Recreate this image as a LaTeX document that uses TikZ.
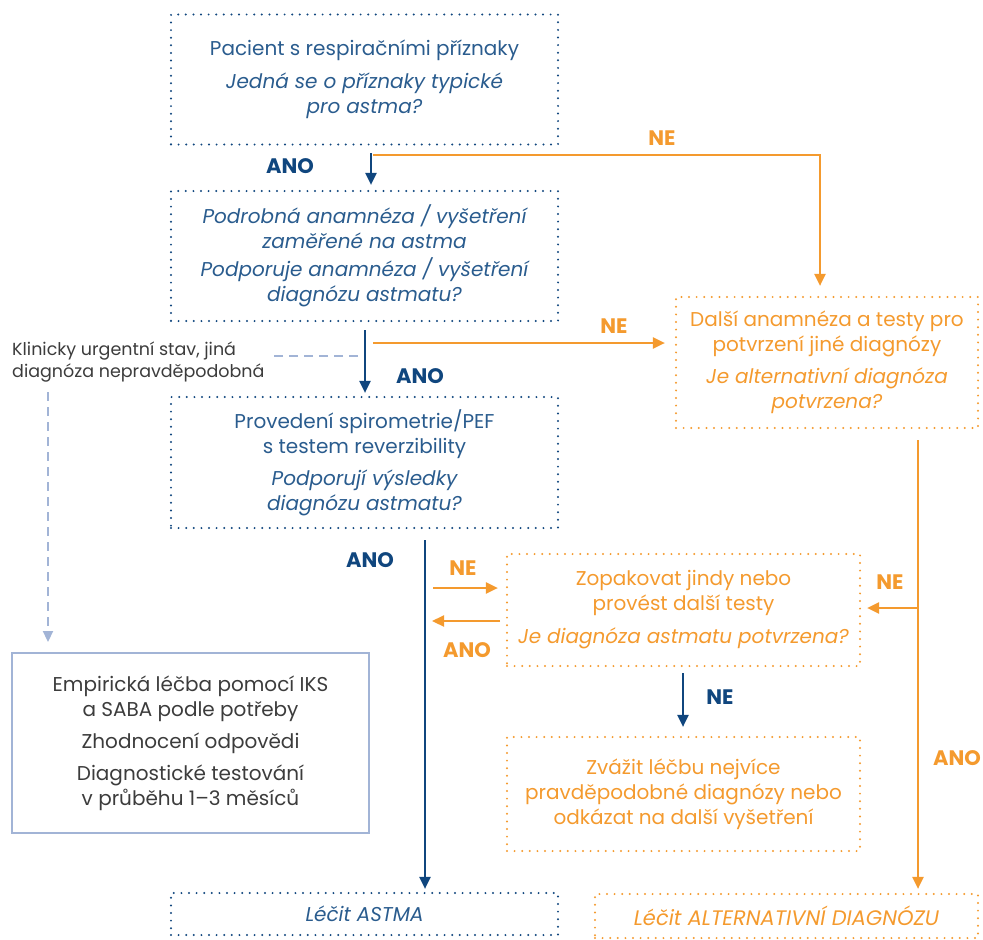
\documentclass[tikz,border=0pt]{standalone}
\usepackage{fontspec}
\setmainfont{Poppins}
\usetikzlibrary{arrows.meta,calc}
\definecolor{blueT}{RGB}{42,92,142}
\definecolor{blueA}{RGB}{16,70,126}
\definecolor{orng}{RGB}{244,154,46}
\definecolor{lblue}{RGB}{162,180,214}
\definecolor{grayT}{RGB}{60,60,60}
\tikzset{
  box/.style={draw, line width=2.2pt, dash pattern=on 0pt off 7.6pt, line cap=round,
    inner sep=0pt, align=center, font=\fontsize{20}{25}\selectfont},
  bbox/.style={box, draw=blueA, text=blueT},
  obox/.style={box, draw=orng, text=orng},
  barrow/.style={draw=blueA, line width=2.2pt, -{Triangle[length=12pt,width=11pt]}},
  oarrow/.style={draw=orng, line width=2.2pt, -{Triangle[length=12pt,width=11pt]}},
  lbl/.style={font=\fontsize{21}{22}\selectfont\bfseries},
  dsh/.style={draw=lblue, line width=2.2pt, dash pattern=on 9pt off 6pt},
}
\begin{document}
\begin{tikzpicture}[x=1pt,y=-1pt]
\useasboundingbox (0,0) rectangle (983,940);
% boxes
\node[bbox, minimum width=387, minimum height=130] (b1) at (364.5,79.5)
  {Pacient s respiračními příznaky\\[8pt] \itshape Jedná se o příznaky typické\\ \itshape pro astma?};
\node[bbox, minimum width=387, minimum height=130] (b2) at (364.5,256)
  {\itshape Podrobná anamnéza / vyšetření\\ \itshape zaměřené na astma\\[3pt] \itshape Podporuje anamnéza / vyšetření\\ \itshape diagnózu astmatu?};
\node[bbox, minimum width=387, minimum height=131] (b3) at (364.5,462.5)
  {Provedení spirometrie/PEF\\ s testem reverzibility\\[7pt] \itshape Podporují výsledky\\ \itshape diagnózu astmatu?};
\node[obox, minimum width=302, minimum height=131] (b4) at (827,362.5)
  {Další anamnéza a testy pro\\ potvrzení jiné diagnózy\\[7pt] \itshape Je alternativní diagnóza\\ \itshape potvrzena?};
\node[obox, minimum width=353, minimum height=112] (b5) at (683.5,610)
  {Zopakovat jindy nebo\\ provést další testy\\[8pt] \itshape Je diagnóza astmatu potvrzena?};
\node[obox, minimum width=353, minimum height=114] (b6) at (683.5,794)
  {Zvážit léčbu nejvíce\\ pravděpodobné diagnózy nebo\\ odkázat na další vyšetření};
\node[bbox, minimum width=387, minimum height=42] (b7) at (364.5,914) {\itshape Léčit ASTMA};
\node[obox, minimum width=383, minimum height=44, font=\fontsize{21}{25}\selectfont] (b8) at (786.5,916) {\itshape Léčit ALTERNATIVNÍ DIAGNÓZU};
\node[draw=lblue, line width=2.2pt, text=grayT, align=center, inner sep=0pt,
  minimum width=357, minimum height=180, font=\fontsize{20}{25}\selectfont] (lb) at (190.5,743)
  {Empirická léčba pomocí IKS\\ a SABA podle potřeby\\[7pt] Zhodnocení odpovědi\\[7pt] Diagnostické testování\\ v průběhu 1–3 měsíců};
\node[text=grayT, align=left, anchor=west, inner sep=0pt, font=\fontsize{17.5}{21.5}\selectfont] (urg) at (12,362)
  {Klinicky urgentní stav, jiná\\ diagnóza nepravděpodobná};
% coordinates
\coordinate (c1) at (371,153);
\coordinate (c1o) at (373,155);
\coordinate (c1k) at (820,155);
\coordinate (c2) at (365,330);
\coordinate (c2o) at (373,343);
\coordinate (cd1) at (358,356);
\coordinate (cd2) at (270,356);
\coordinate (cd3) at (48,392);
\coordinate (cd4) at (48,642);
\coordinate (c3) at (425,540);
\coordinate (cne) at (433,588);
\coordinate (cano) at (500,621);
\coordinate (cano2) at (432,621);
\coordinate (c4) at (918,440);
\coordinate (c4b) at (918,608);
\coordinate (c5) at (683,673);
% connectors
\draw[barrow, shorten >=5pt] (c1) -- (c1 |- b2.north);
\draw[oarrow, shorten >=10pt] (c1o) -- (c1k) -- (c1k |- b4.north);
\draw[barrow, shorten >=3pt] (c2) -- (c2 |- b3.north);
\draw[oarrow, shorten >=10pt] (c2o) -- (c2o -| b4.west);
\draw[dsh] (cd1) -- (cd2);
\draw[dsh, -{Triangle[length=11pt,width=10pt]}] (cd3) -- (cd4);
\draw[barrow, shorten >=3pt] (c3) -- (c3 |- b7.north);
\draw[oarrow, shorten >=8pt] (cne) -- (cne -| b5.west);
\draw[oarrow] (cano) -- (cano2);
\draw[oarrow, shorten >=4pt] (c4) -- (c4 |- b8.north);
\draw[oarrow, shorten >=6pt] (c4b) -- (c4b -| b5.east);
\draw[barrow, shorten >=9pt] (c5) -- (c5 |- b6.north);
% labels
\node[lbl, text=blueA] (l1) at (290,166) {ANO};
\node[lbl, text=orng] (l2) at (662,138) {NE};
\node[lbl, text=orng] (l3) at (614,326) {NE};
\node[lbl, text=blueA] (l4) at (420,376) {ANO};
\node[lbl, text=blueA] (l5) at (370,560) {ANO};
\node[lbl, text=orng] (l6) at (463,568) {NE};
\node[lbl, text=orng] (l7) at (467,650) {ANO};
\node[lbl, text=orng] (l8) at (890,582) {NE};
\node[lbl, text=orng] (l9) at (957,758) {ANO};
\node[lbl, text=blueA] (l10) at (720,697) {NE};
\end{tikzpicture}
\end{document}
